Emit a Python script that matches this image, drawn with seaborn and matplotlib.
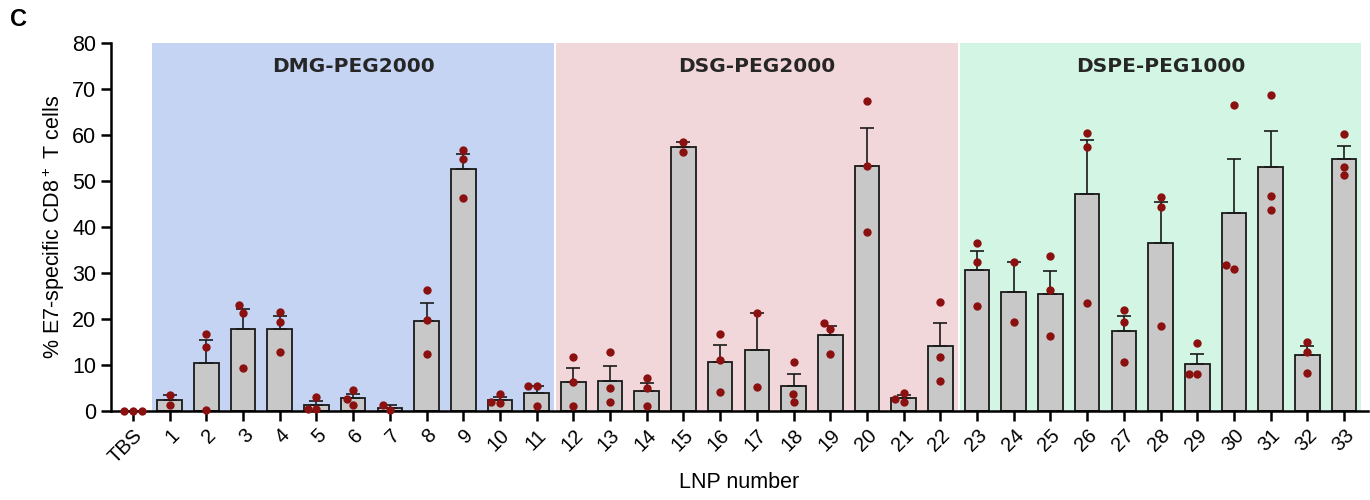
import numpy as np
import pandas as pd
import seaborn as sns
import matplotlib.pyplot as plt

# --- data (individual replicates, % E7-specific CD8+ T cells) ---
lnp_labels = ['TBS'] + [str(i) for i in range(1, 34)]

tbs_vals = [[0.0, 0.0, 0.0]]
dmg_vals = [[3.5, 1.2], [16.8, 14.0, 0.2], [23.0, 21.4, 9.3], [21.6, 19.4, 12.8],
            [3.1, 0.4, 0.4], [4.6, 2.6, 1.3], [1.2, 0.2], [26.2, 19.8, 12.4],
            [56.8, 54.8, 46.4], [3.7, 2.0, 1.7], [5.5, 5.4, 1.1]]
dsg_vals = [[11.7, 6.2, 1.1], [12.8, 4.9, 2.0], [7.1, 4.9, 1.1], [58.4, 56.4],
            [16.8, 11.1, 4.2], [21.2, 5.3], [10.6, 3.7, 1.9], [19.1, 17.8, 12.4],
            [67.5, 53.3, 39.0], [4.0, 2.6, 2.0], [23.8, 11.7, 6.6]]
dspe_vals = [[36.6, 32.5, 22.8], [32.5, 19.3], [33.8, 26.3, 16.3], [60.5, 57.3, 23.5],
             [21.9, 19.4, 10.6], [46.5, 44.3, 18.5], [14.7, 8.0, 8.0], [66.5, 31.8, 30.9],
             [68.7, 46.8, 43.6], [15.1, 12.9, 8.3], [60.2, 53.1, 51.2]]

group_names = ['DMG-PEG2000', 'DSG-PEG2000', 'DSPE-PEG1000']
group_colors = ['#C5D4F3', '#F2D7DA', '#D3F5E4']

rows = []
for label, reps in zip(lnp_labels, tbs_vals + dmg_vals + dsg_vals + dspe_vals):
    for v in reps:
        rows.append({'lnp': label, 'pct': v})
df = pd.DataFrame(rows)
stats = df.groupby('lnp', sort=False)['pct'].agg(['mean', 'sem']).reindex(lnp_labels).fillna(0)

sns.set_theme(style='ticks')
plt.rcParams['font.family'] = ['Liberation Sans', 'DejaVu Sans']
plt.rcParams['mathtext.default'] = 'regular'
for key in ['text.color', 'axes.labelcolor', 'xtick.color', 'ytick.color']:
    plt.rcParams[key] = 'black'

fig = plt.figure(figsize=(13.7, 5), dpi=100)
ax = fig.add_axes([0.081, 0.178, 0.9175, 0.736])

# shaded PEG-lipid groups
start = 1
for name, vals, color in zip(group_names, [dmg_vals, dsg_vals, dspe_vals], group_colors):
    end = start + len(vals) - 1
    ax.axvspan(start - 0.47, end + 0.47, color=color, lw=0, zorder=0)
    ax.text((start + end) / 2, 74.8, name, ha='center', va='center', fontsize=14.5,
            fontweight='bold', color='#262626', family='DejaVu Sans')
    start = end + 1

# bars = mean, error = SEM (upper only)
sns.barplot(data=df, x='lnp', y='pct', order=lnp_labels, errorbar=None,
            color='#C8C8C8', edgecolor='#1a1a1a', linewidth=1.3, width=0.67,
            saturation=1, ax=ax, zorder=2)
xs = np.arange(len(lnp_labels))
ax.errorbar(xs[1:], stats['mean'].values[1:],
            yerr=[np.zeros(len(xs) - 1), stats['sem'].values[1:]],
            fmt='none', ecolor='#1a1a1a', elinewidth=1.2, capsize=5, capthick=1.2, zorder=3)

sns.swarmplot(data=df, x='lnp', y='pct', order=lnp_labels, color='#8B1111',
              size=6, ax=ax, zorder=4)
for coll in ax.collections:
    coll.set_clip_on(False)

ax.set_xlim(-0.6, 33.65)
ax.set_ylim(0, 80)
ax.set_yticks(range(0, 81, 10))
sns.despine(ax=ax)
for side in ['left', 'bottom']:
    ax.spines[side].set_linewidth(1.8)
    ax.spines[side].set_color('black')
ax.tick_params(axis='both', length=7, width=1.8, color='black')
ax.tick_params(axis='y', labelsize=15.5)
ax.tick_params(axis='x', labelsize=14.5)
plt.setp(ax.get_xticklabels(), rotation=45, ha='right', rotation_mode='anchor')

ax.set_xlabel('LNP number', fontsize=15.5)
ax.set_ylabel('% E7-specific CD8$^+$ T cells', fontsize=15.5)
fig.text(0.007, 0.948, 'C', fontsize=17, fontweight='bold')

fig.savefig('out.png', dpi=100)
